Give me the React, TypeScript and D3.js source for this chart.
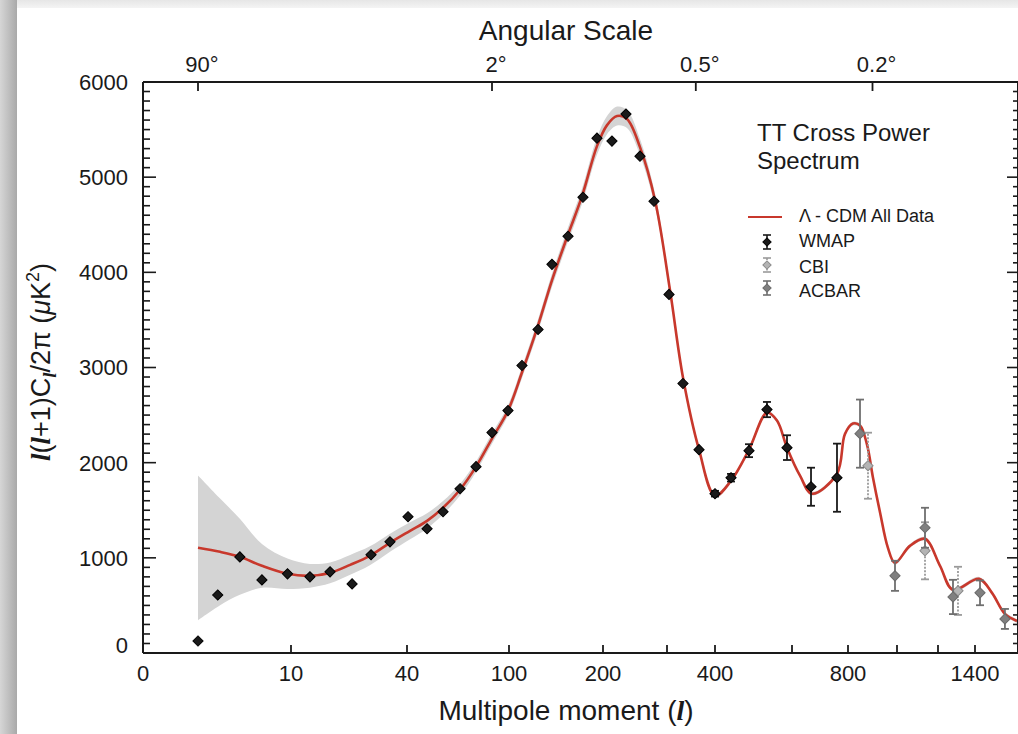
import React, { useEffect } from 'react';
import * as d3 from 'd3';

const W = 1018;
const H = 734;

// Lambda-CDM best fit
const modelL = [2, 3.9, 5.6, 7.5, 9.7, 14.9, 20.1, 25.3, 30.4, 35.6, 41.8, 51.8, 61.2, 71.2, 80.6, 90, 99.4, 113.8, 130.9, 145.7, 161.7, 177.7, 193.6, 206.3, 221.9, 237.5, 257.8, 281.3, 306.3, 333.3, 366.7, 400, 441.6, 488.3, 535, 561, 587, 628.6, 671.4, 760.7, 789, 820.4, 849, 877.6, 902, 930.6, 963, 991.8, 1063, 1136.6, 1211, 1281, 1423, 1497, 1571, 1640];
const modelV = [1105, 1063, 1011, 916, 832, 811, 842, 926, 1021, 1158, 1284, 1389, 1526, 1716, 1958, 2253, 2547, 2947, 3442, 3916, 4368, 4800, 5326, 5547, 5642, 5611, 5316, 4758, 3811, 2895, 2137, 1653, 1810, 2137, 2526, 2442, 2158, 1863, 1674, 1884, 2300, 2411, 2390, 2190, 1842, 1480, 1105, 947, 1126, 1200, 916, 663, 779, 632, 411, 337];
// half width of the grey cosmic variance band
const bandHalf = [760, 560, 400, 230, 160, 125, 110, 105, 100, 95, 90, 80, 70, 60, 55, 55, 55, 60, 65, 70, 75, 80, 90, 95, 100, 95, 85, 70, 50, 40, 30, 25, 20, 20, 20, 20, 20, 20, 20, 20, 20, 20, 20, 20, 20, 20, 20, 20, 20, 20, 20, 20, 20, 20, 20, 20];

const wmapL = [2, 3.7, 5.6, 7.5, 9.7, 14.9, 20.1, 25.8, 30.7, 35.6, 40.6, 51.8, 61.2, 71.2, 80.6, 90, 99.4, 113.8, 130.9, 145.7, 162.8, 178.7, 193.6, 214, 235.9, 257.8, 279.7, 304.2, 333.3, 366.7, 400, 441.6, 488.3, 535, 587, 667.9, 760.7];
const wmapV = [126, 610, 1010, 768, 832, 800, 853, 726, 1032, 1168, 1432, 1305, 1484, 1726, 1958, 2316, 2547, 3021, 3400, 4084, 4379, 4789, 5410, 5379, 5663, 5221, 4747, 3768, 2832, 2137, 1674, 1842, 2126, 2558, 2158, 1747, 1842];
const wmapErr = [0, 0, 0, 0, 0, 0, 0, 0, 0, 0, 0, 0, 0, 0, 0, 0, 0, 0, 0, 0, 0, 0, 0, 0, 0, 0, 0, 0, 0, 0, 30, 40, 68, 80, 130, 200, 358];

const cbiL = [881.6, 1136.6, 1308];
const cbiV = [1968, 1074, 653];
const cbiErr = [347, 300, 253];

const acbarL = [849, 991.8, 1136.6, 1281, 1428.6, 1571];
const acbarV = [2305, 811, 1316, 589, 632, 358];
const acbarErr = [358, 158, 210, 180, 130, 105];

const xTickVals = [10, 40, 100, 200, 300, 400, 600, 800, 1000, 1200, 1400];
const xTickLabels = [0, 10, 40, 100, 200, 400, 800, 1400];
const angleDeg = [90, 2, 0.5, 0.2];
const angleLabels = ['90°', '2°', '0.5°', '0.2°'];

const FONT = '"Liberation Sans", Arial, Helvetica, sans-serif';
const SERIF = '"Liberation Serif", "Times New Roman", serif';
const RED = '#c8382c';
const INK = '#1a1a1a';

const left = 143;
const right = 1018;
const top = 82;
const bottom = 653;

// the multipole axis of the original is stretched by hand, so use a polylinear scale
const x = d3.scaleLinear()
  .domain([0, 2, 10, 40, 100, 200, 300, 400, 600, 800, 1000, 1200, 1400, 1600])
  .range([143, 198, 291, 407, 509, 603, 667, 715, 792, 848, 897, 938, 975, 1010]);
const y = d3.scaleLinear().domain([0, 6000]).range([bottom, top]);

const diamond = d3.symbol().type(d3.symbolSquare).size(52)() || '';
const smallDiamond = d3.symbol().type(d3.symbolSquare).size(34)() || '';

function Points({ ls, vs, errs, fill, stroke, bar, dash }: any) {
  return (
    <g>
      {ls.map((l: number, i: number) => {
        const cx = x(l);
        const e = errs ? errs[i] : 0;
        return (
          <g key={i}>
            {e > 0 && (
              <g stroke={bar} strokeWidth={1.8} strokeDasharray={dash}>
                <line x1={cx} x2={cx} y1={y(vs[i] - e)} y2={y(vs[i] + e)} />
                <line x1={cx - 4} x2={cx + 4} y1={y(vs[i] - e)} y2={y(vs[i] - e)} strokeDasharray="none" />
                <line x1={cx - 4} x2={cx + 4} y1={y(vs[i] + e)} y2={y(vs[i] + e)} strokeDasharray="none" />
              </g>
            )}
            <path d={diamond} transform={`translate(${cx},${y(vs[i])}) rotate(45)`} fill={fill} stroke={stroke} strokeWidth={1} />
          </g>
        );
      })}
    </g>
  );
}

function LegendMark({ cy, fill, stroke, bar, dash }: any) {
  const cx = 767;
  return (
    <g>
      <g stroke={bar} strokeWidth={1.6}>
        <line x1={cx} x2={cx} y1={cy - 7} y2={cy + 7} strokeDasharray={dash} />
        <line x1={cx - 4} x2={cx + 4} y1={cy - 7} y2={cy - 7} />
        <line x1={cx - 4} x2={cx + 4} y1={cy + 7} y2={cy + 7} />
      </g>
      <path d={smallDiamond} transform={`translate(${cx},${cy}) rotate(45)`} fill={fill} stroke={stroke} />
    </g>
  );
}

export default function App() {
  useEffect(() => {
    document.body.style.margin = '0';
  }, []);

  const model = modelL.map((l, i) => ({ l, v: modelV[i], h: bandHalf[i] }));
  const curve = d3.curveCatmullRom.alpha(0.5);
  const line = d3.line<any>().x((d) => x(d.l)).y((d) => y(d.v)).curve(curve);
  const band = d3.area<any>()
    .x((d) => x(d.l))
    .y0((d) => y(d.v - d.h))
    .y1((d) => y(d.v + d.h))
    .curve(curve);

  const yMinor = d3.range(0, 6001, 100);
  const yMajor = y.ticks(6);

  return (
    <svg width={W} height={H} style={{ position: 'absolute', left: 0, top: 0, display: 'block' }} fontFamily={FONT}>
      <defs>
        <linearGradient id="edge" x1="0" x2="1" y1="0" y2="0">
          <stop offset="0" stopColor="#d6d6d6" />
          <stop offset="1" stopColor="#a9a9a9" />
        </linearGradient>
        <linearGradient id="topEdge" x1="0" x2="0" y1="0" y2="1">
          <stop offset="0" stopColor="#e6e6e6" />
          <stop offset="1" stopColor="#f4f4f4" />
        </linearGradient>
        <clipPath id="plot">
          <rect x={left} y={top} width={right - left} height={bottom - top} />
        </clipPath>
      </defs>
      <rect width={W} height={H} fill="#fff" />
      <rect x={0} y={0} width={17} height={H} fill="url(#edge)" />
      <rect x={17} y={0} width={W - 17} height={8} fill="url(#topEdge)" />

      <g clipPath="url(#plot)">
        <path d={band(model) || ''} fill="#d4d4d4" />
        <path d={line(model) || ''} fill="none" stroke={RED} strokeWidth={2.6} />
        <Points ls={wmapL} vs={wmapV} errs={wmapErr} fill={INK} stroke="#000" bar={INK} />
        <Points ls={cbiL} vs={cbiV} errs={cbiErr} fill="#b4b4b4" stroke="#8a8a8a" bar="#9a9a9a" dash="2,1.5" />
        <Points ls={acbarL} vs={acbarV} errs={acbarErr} fill="#808080" stroke="#6a6a6a" bar="#6f6f6f" />
      </g>

      {/* frame */}
      <g stroke={INK} strokeWidth={2} fill="none">
        <line x1={left} x2={right} y1={top} y2={top} />
        <line x1={left} x2={right} y1={bottom} y2={bottom} />
        <line x1={left} x2={left} y1={top} y2={bottom} />
        <line x1={right} x2={right} y1={top} y2={bottom} />
      </g>

      {/* y ticks, left and right */}
      <g stroke={INK} strokeWidth={1.6}>
        {yMinor.map((v) => {
          const major = v % 1000 === 0;
          return (
            <g key={v}>
              <line x1={left} x2={left + (major ? 13 : 7)} y1={y(v)} y2={y(v)} />
              <line x1={right} x2={right - (major ? 11 : 5)} y1={y(v)} y2={y(v)} />
            </g>
          );
        })}
      </g>
      <g fontSize={22} fill={INK} textAnchor="end">
        {yMajor.map((v) => (
          <text key={v} x={128} y={y(v) - (v === 0 ? 8 : 0)} dy="0.36em">{v}</text>
        ))}
      </g>

      {/* multipole ticks */}
      <g stroke={INK} strokeWidth={1.8}>
        {xTickVals.map((l) => (
          <line key={l} x1={x(l)} x2={x(l)} y1={bottom} y2={bottom - 8} />
        ))}
      </g>
      <g fontSize={22} fill={INK} textAnchor="middle">
        {xTickLabels.map((l) => (
          <text key={l} x={x(l)} y={681}>{l}</text>
        ))}
      </g>

      {/* angular scale ticks: theta ~ 180 / l */}
      <g stroke={INK} strokeWidth={1.8}>
        {angleDeg.map((a) => (
          <line key={a} x1={x(180 / a)} x2={x(180 / a)} y1={top} y2={top + 9} />
        ))}
      </g>
      <g fontSize={22} fill={INK} textAnchor="middle">
        {angleDeg.map((a, i) => (
          <text key={a} x={x(180 / a) + 4} y={72}>{angleLabels[i]}</text>
        ))}
      </g>

      <text x={566} y={40} fontSize={28} textAnchor="middle" fill={INK}>Angular Scale</text>
      <text x={566} y={720} fontSize={28} textAnchor="middle" fill={INK}>
        Multipole moment (<tspan fontFamily={SERIF} fontStyle="italic" fontWeight="bold">l</tspan>)
      </text>
      <text transform="translate(50,362) rotate(-90)" fontSize={27} textAnchor="middle" fill={INK}>
        <tspan fontFamily={SERIF} fontStyle="italic" fontWeight="bold">l</tspan>
        <tspan>(</tspan>
        <tspan fontFamily={SERIF} fontStyle="italic" fontWeight="bold">l</tspan>
        <tspan>+1)C</tspan>
        <tspan fontFamily={SERIF} fontStyle="italic" fontWeight="bold" fontSize={19} dy={6}>l</tspan>
        <tspan dy={-6}>/2π (</tspan>
        <tspan fontStyle="italic">μ</tspan>
        <tspan>K</tspan>
        <tspan fontSize={18} dy={-11}>2</tspan>
        <tspan dy={11}>)</tspan>
      </text>

      {/* legend */}
      <g fill={INK}>
        <text x={757} y={141} fontSize={24}>TT Cross Power</text>
        <text x={757} y={169} fontSize={24}>Spectrum</text>
        <line x1={748} x2={782} y1={217} y2={217} stroke={RED} strokeWidth={2} />
        <LegendMark cy={242} fill={INK} stroke="#000" bar={INK} />
        <LegendMark cy={265} fill="#b4b4b4" stroke="#8a8a8a" bar="#9a9a9a" dash="2,1.5" />
        <LegendMark cy={288} fill="#808080" stroke="#6a6a6a" bar="#6f6f6f" />
        <g fontSize={18}>
          <text x={799} y={222}>Λ - CDM All Data</text>
          <text x={799} y={247}>WMAP</text>
          <text x={799} y={273}>CBI</text>
          <text x={799} y={297}>ACBAR</text>
        </g>
      </g>
    </svg>
  );
}
